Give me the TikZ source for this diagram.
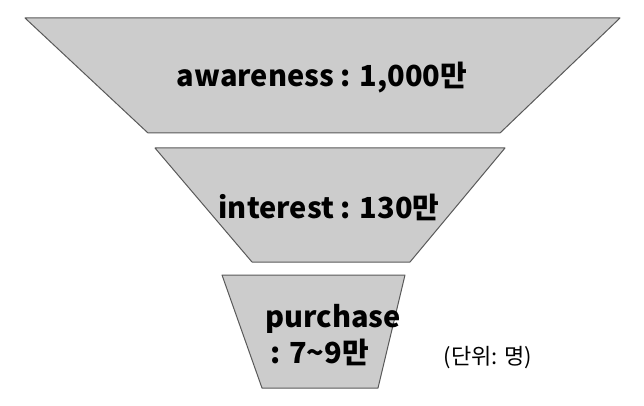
\documentclass[tikz,border=0pt]{standalone}
\usepackage{fontspec}
\setmainfont{Noto Sans CJK KR}
\usetikzlibrary{positioning}
\definecolor{funnelgray}{HTML}{CCCCCC}
\definecolor{edgegray}{HTML}{595959}
\tikzset{
	level/.style={fill=funnelgray,draw=edgegray,line width=1pt,line join=round},
	label/.style={font=\fontsize{29}{36}\selectfont\bfseries,align=center}
}
\begin{document}
\begin{tikzpicture}[x=1pt,y=-1pt]
	\useasboundingbox (0,0) rectangle (644,406);

	% funnel levels
	\path[level] (25,18) -- (620,18) -- (500,133) -- (148,133) -- cycle;
	\path[level] (155,148) -- (505,148) -- (410,262) -- (252,262) -- cycle;
	\path[level] (222,275) -- (405,275) -- (378,388) -- (262,388) -- cycle;

	% texts
	\node[label] (aware) at (322,78) {awareness : 1,000만};
	\node[label] (inter) at (329,207) {interest : 130만};
	\node[label,align=left] (purch) at (333,335) {purchase\\\,: 7\textasciitilde9만};
	\node[font=\fontsize{22}{26}\selectfont] (unit) at (488,358) {(단위: 명)};
\end{tikzpicture}
\end{document}
